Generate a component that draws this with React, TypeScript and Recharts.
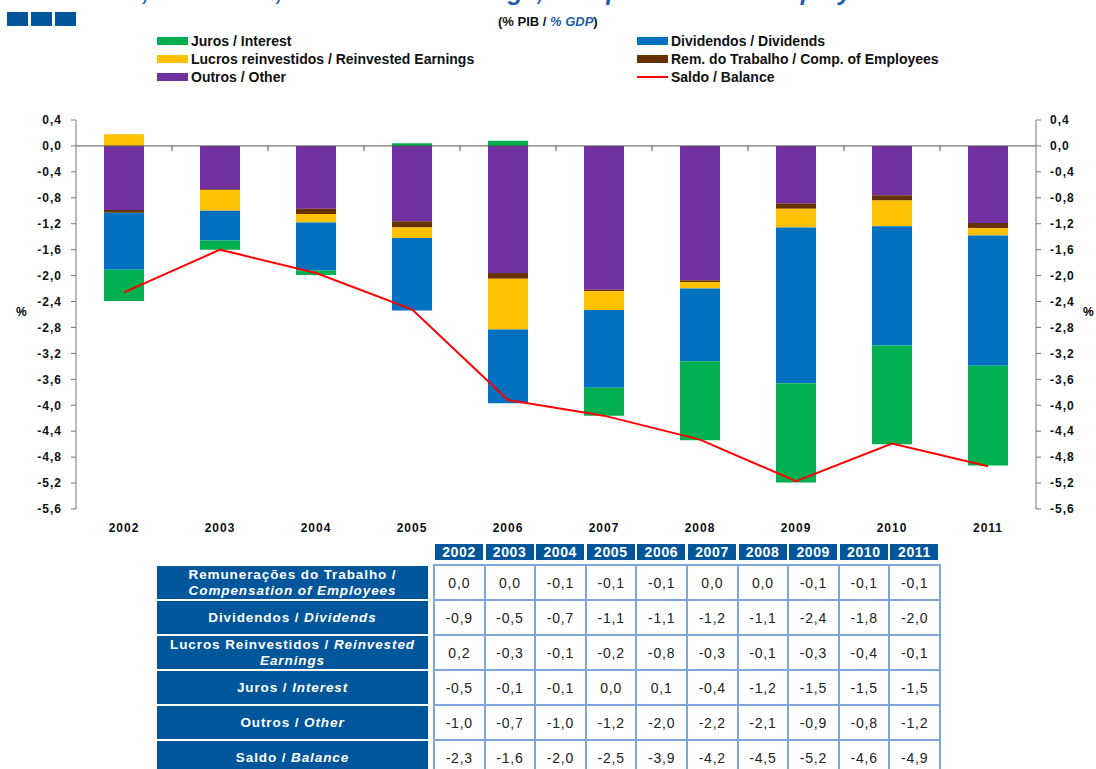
import React from "react";
import {
  ComposedChart,
  Bar,
  Line,
  XAxis,
  YAxis,
  ReferenceLine,
} from "recharts";

const years = ["2002", "2003", "2004", "2005", "2006", "2007", "2008", "2009", "2010", "2011"];

// % GDP (each rounds to the printed table value)
const outros = [-0.99, -0.67, -0.97, -1.16, -1.96, -2.22, -2.07, -0.89, -0.76, -1.19];
const remuneracoes = [-0.04, -0.01, -0.08, -0.1, -0.09, -0.02, -0.03, -0.08, -0.08, -0.08];
const lucros = [0.18, -0.32, -0.13, -0.16, -0.78, -0.29, -0.1, -0.29, -0.4, -0.11];
const dividendos = [-0.88, -0.46, -0.74, -1.12, -1.14, -1.2, -1.12, -2.4, -1.84, -2.01];
const juros = [-0.48, -0.14, -0.07, 0.04, 0.08, -0.43, -1.22, -1.53, -1.52, -1.54];
const saldo = [-2.26, -1.6, -1.96, -2.52, -3.92, -4.16, -4.53, -5.17, -4.59, -4.94];

const yTicks = [0.4, 0, -0.4, -0.8, -1.2, -1.6, -2.0, -2.4, -2.8, -3.2, -3.6, -4.0, -4.4, -4.8, -5.2, -5.6];

const tableLabelsPt = [
  "Remunerações do Trabalho /",
  "Dividendos /",
  "Lucros Reinvestidos /",
  "Juros /",
  "Outros /",
  "Saldo /",
];
const tableLabelsEn = [
  "Compensation of Employees",
  "Dividends",
  "Reinvested Earnings",
  "Interest",
  "Other",
  "Balance",
];
const tableRows = [remuneracoes, dividendos, lucros, juros, outros, saldo];

const COLORS = {
  juros: "#00B050",
  dividendos: "#0070C0",
  lucros: "#FFC000",
  remuneracoes: "#663300",
  outros: "#7030A0",
  saldo: "#FF0000",
};

const legendItems = [
  { label: "Juros / Interest", color: COLORS.juros, line: false, col: 0 },
  { label: "Dividendos / Dividends", color: COLORS.dividendos, line: false, col: 1 },
  { label: "Lucros reinvestidos / Reinvested Earnings", color: COLORS.lucros, line: false, col: 0 },
  { label: "Rem. do Trabalho / Comp. of Employees", color: COLORS.remuneracoes, line: false, col: 1 },
  { label: "Outros / Other", color: COLORS.outros, line: false, col: 0 },
  { label: "Saldo / Balance", color: COLORS.saldo, line: true, col: 1 },
];

const FONT = "Arial, 'Liberation Sans', sans-serif";
const NAVY = "#00569B";

function fmt(v: number) {
  const s = v.toFixed(1);
  if (s === "-0.0" || s === "0.0") return "0,0";
  return s.replace(".", ",");
}

const data = years.map((year, i) => ({
  year,
  outros: outros[i],
  remuneracoes: remuneracoes[i],
  lucros: lucros[i],
  dividendos: dividendos[i],
  juros: juros[i],
  saldo: saldo[i],
}));

// zero line with small ticks between the categories
function ZeroAxis(props: any) {
  const { x1, x2, y1 } = props;
  const n = years.length;
  const step = (x2 - x1) / n;
  const ticks = [];
  for (let k = 1; k < n; k++) {
    const x = x1 + k * step;
    ticks.push(<line key={k} x1={x} x2={x} y1={y1} y2={y1 + 5} stroke="#555" strokeWidth={1} />);
  }
  return (
    <g>
      <line x1={x1} x2={x2} y1={y1} y2={y1} stroke="#555" strokeWidth={1} />
      {ticks}
    </g>
  );
}

const tickStyle = { fill: "#111", fontSize: 12, fontWeight: 700, fontFamily: FONT, letterSpacing: 1 };

// one span per word, so a wrapped label never gives overlapping boxes
function words(text: string, italic: boolean) {
  return text.split(" ").map((w, i) => (
    <React.Fragment key={i}>
      {i > 0 ? " " : ""}
      <span style={{ fontStyle: italic ? "italic" : "normal", whiteSpace: "nowrap" }}>{w}</span>
    </React.Fragment>
  ));
}

export default function App() {
  return (
    <div
      style={{
        position: "absolute",
        left: 0,
        top: 0,
        width: 1096,
        height: 769,
        overflow: "hidden",
        background: "#fff",
        fontFamily: FONT,
      }}
    >
      {/* title, cut off at the top of the picture */}
      <div style={{ position: "absolute", left: 0, top: 0, width: 1096, height: 10, overflow: "hidden" }}>
        <span
          style={{
            position: "absolute",
            left: 52,
            top: -23,
            lineHeight: "28px",
            fontSize: 25,
            fontWeight: 700,
            fontStyle: "italic",
            color: "#1F5FA8",
            whiteSpace: "nowrap",
          }}
        >
          Interest, Dividends, Reinvested Earnings, Compensation of Employees
        </span>
      </div>

      {[7, 31, 55].map((x) => (
        <div key={x} style={{ position: "absolute", left: x, top: 12, width: 21, height: 14, background: NAVY }} />
      ))}

      <div
        style={{
          position: "absolute",
          left: 498,
          top: 14,
          fontSize: 13,
          fontWeight: 700,
          color: "#111",
          whiteSpace: "nowrap",
        }}
      >
        (% PIB / <span style={{ fontStyle: "italic", color: "#1F5FA8" }}>% GDP</span>)
      </div>

      {legendItems.map((item, i) => {
        const row = Math.floor(i / 2);
        const left = item.col === 0 ? 157 : 637;
        return (
          <div
            key={item.label}
            style={{
              position: "absolute",
              left,
              top: 33 + row * 18,
              height: 16,
              display: "flex",
              alignItems: "center",
              fontSize: 14,
              fontWeight: 700,
              color: "#111",
              whiteSpace: "nowrap",
            }}
          >
            <span
              style={{
                display: "inline-block",
                width: 31,
                height: item.line ? 2 : 8,
                background: item.color,
                marginRight: 3,
              }}
            />
            {item.label}
          </div>
        );
      })}

      <div style={{ position: "absolute", left: 16, top: 305, fontSize: 12, fontWeight: 700 }}>%</div>
      <div style={{ position: "absolute", left: 1083, top: 305, fontSize: 12, fontWeight: 700 }}>%</div>

      <div style={{ position: "absolute", left: 0, top: 0 }}>
        <ComposedChart
          width={1096}
          height={545}
          data={data}
          stackOffset="sign"
          margin={{ top: 120, right: 4, left: 20, bottom: 6 }}
        >
          <XAxis
            dataKey="year"
            axisLine={false}
            tickLine={false}
            tick={tickStyle}
            height={30}
            dy={6}
            interval={0}
          />
          <YAxis
            yAxisId="left"
            domain={[-5.6, 0.4]}
            ticks={yTicks}
            interval={0}
            allowDataOverflow
            width={56}
            tickFormatter={fmt}
            tick={tickStyle}
            tickSize={5}
            tickMargin={9}
            axisLine={{ stroke: "#777" }}
            tickLine={{ stroke: "#777" }}
          />
          <YAxis
            yAxisId="right"
            orientation="right"
            domain={[-5.6, 0.4]}
            ticks={yTicks}
            interval={0}
            allowDataOverflow
            width={56}
            tickFormatter={fmt}
            tick={tickStyle}
            tickSize={5}
            tickMargin={9}
            axisLine={{ stroke: "#777" }}
            tickLine={{ stroke: "#777" }}
          />
          <Bar yAxisId="left" dataKey="outros" stackId="a" fill={COLORS.outros} barSize={40} isAnimationActive={false} />
          <Bar yAxisId="left" dataKey="remuneracoes" stackId="a" fill={COLORS.remuneracoes} barSize={40} isAnimationActive={false} />
          <Bar yAxisId="left" dataKey="lucros" stackId="a" fill={COLORS.lucros} barSize={40} isAnimationActive={false} />
          <Bar yAxisId="left" dataKey="dividendos" stackId="a" fill={COLORS.dividendos} barSize={40} isAnimationActive={false} />
          <Bar yAxisId="left" dataKey="juros" stackId="a" fill={COLORS.juros} barSize={40} isAnimationActive={false} />
          <ReferenceLine yAxisId="left" y={0} shape={ZeroAxis} />
          <Line
            yAxisId="right"
            type="linear"
            dataKey="saldo"
            stroke={COLORS.saldo}
            strokeWidth={2}
            dot={false}
            activeDot={false}
            isAnimationActive={false}
          />
        </ComposedChart>
      </div>

      {/* data table */}
      {years.map((y, i) => (
        <div
          key={y}
          style={{
            position: "absolute",
            left: 435 + i * 50.6,
            top: 544,
            width: 48,
            height: 16,
            background: NAVY,
            color: "#fff",
            fontSize: 14,
            fontWeight: 700,
            letterSpacing: 0.6,
            lineHeight: "16px",
            textAlign: "center",
          }}
        >
          {y}
        </div>
      ))}

      {tableLabelsPt.map((pt, r) => (
        <div
          key={pt}
          style={{
            position: "absolute",
            left: 157,
            top: 566 + r * 35,
            width: 271,
            height: 33,
            background: NAVY,
            color: "#fff",
            fontSize: 13.5,
            fontWeight: 700,
            letterSpacing: 0.9,
            lineHeight: "16px",
            textAlign: "center",
            display: "flex",
            alignItems: "center",
            justifyContent: "center",
            boxSizing: "border-box",
            padding: "0 6px",
          }}
        >
          <div>
            {words(pt, false)} {words(tableLabelsEn[r], true)}
          </div>
        </div>
      ))}

      <div
        style={{
          position: "absolute",
          left: 433,
          top: 564,
          width: 50.6 * years.length + 2,
          height: 35 * tableRows.length + 2,
          boxSizing: "border-box",
          borderLeft: "2px solid #7EA6DC",
          borderTop: "2px solid #7EA6DC",
        }}
      />
      {tableRows.map((row, r) =>
        row.map((v, i) => (
          <div
            key={r + "-" + i}
            style={{
              position: "absolute",
              left: 435 + i * 50.6,
              top: 566 + r * 35,
              width: 50.6,
              height: 35,
              boxSizing: "border-box",
              borderRight: "2px solid #7EA6DC",
              borderBottom: "2px solid #7EA6DC",
              fontSize: 14,
              letterSpacing: 0.8,
              color: "#222",
              display: "flex",
              alignItems: "center",
              justifyContent: "center",
            }}
          >
            {fmt(v)}
          </div>
        ))
      )}
    </div>
  );
}
